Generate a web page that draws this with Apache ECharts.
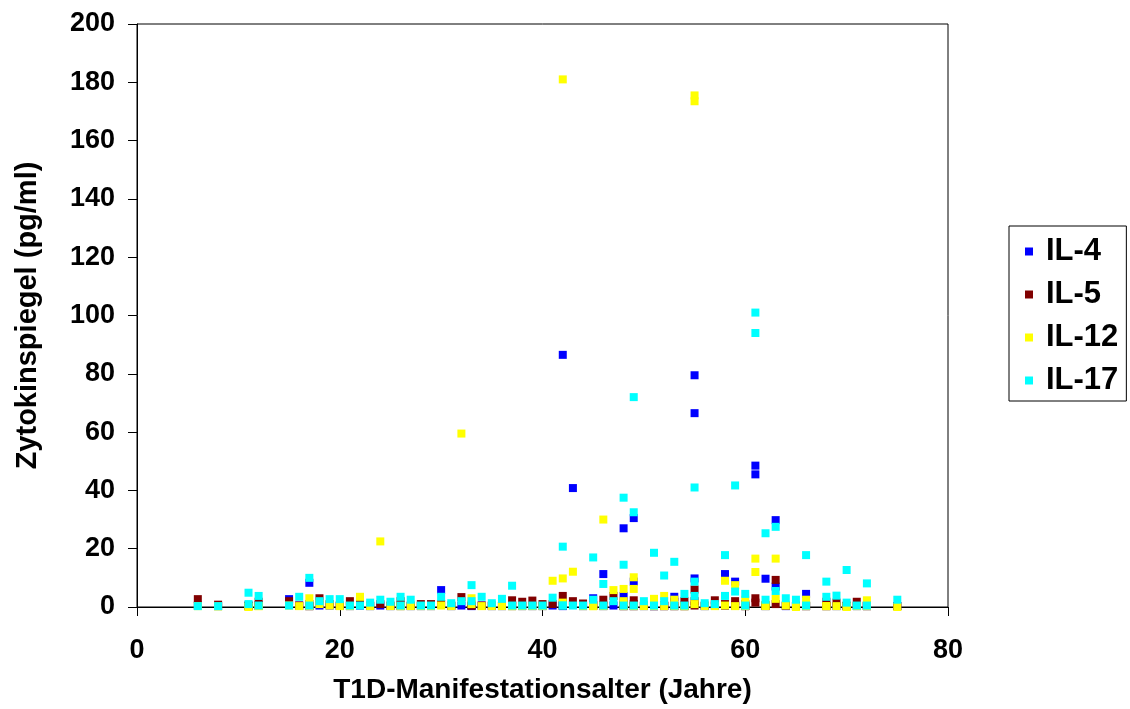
<!DOCTYPE html>
<html>
<head>
<meta charset="utf-8">
<script src="https://cdn.jsdelivr.net/npm/echarts@6/dist/echarts.min.js"></script>
<style>
  html, body { margin: 0; padding: 0; background: #fff; }
  #chart { width: 1130px; height: 709px; }
</style>
</head>
<body>
<div id="chart"></div>
<script>
// Manifestation age (years) per patient
const ages = [6, 8, 11, 11, 12, 12, 15, 16, 17, 17, 18, 19, 20, 21, 22, 23, 24, 25, 26, 26, 27, 28, 29, 30, 31, 32, 33, 33, 34, 35, 36, 37, 37, 38, 39, 40, 41, 42, 42, 42, 43, 44, 45, 45, 46, 46, 47, 48, 48, 48, 49, 49, 49, 50, 51, 51, 52, 52, 53, 53, 54, 54, 55, 55, 55, 56, 57, 58, 58, 59, 59, 60, 60, 61, 61, 62, 62, 63, 63, 64, 65, 66, 66, 68, 68, 69, 70, 70, 71, 72, 72, 75];
// Cytokine levels (pg/ml) per patient
const il4 = [0.5, 0.3, 0.5, 0.3, 0.5, 0.5, 2.7, 0.5, 8.3, 0.3, 0.5, 0.5, 0.4, 0.3, 0.5, 0.3, 0.5, 0.3, 0.5, 0.3, 0.3, 0.3, 0.3, 5.8, 0.3, 0.5, 0.5, 0.3, 0.5, 0.3, 0.3, 0.5, 0.3, 0.3, 0.3, 0.3, 0.5, 86.5, 0.5, 0.3, 40.8, 0.3, 0.5, 3.0, 11.3, 0.3, 0.5, 27.0, 3.8, 0.3, 8.7, 30.5, 0.3, 0.3, 0.3, 0.3, 0.5, 0.3, 3.5, 0.3, 0.5, 0.3, 79.5, 66.5, 9.8, 0.3, 0.5, 11.3, 0.5, 8.7, 0.5, 0.5, 0.3, 48.5, 45.5, 9.7, 0.3, 29.8, 7.0, 0.3, 0.3, 4.5, 0.3, 0.5, 0.3, 0.3, 0.3, 0.3, 0.3, 0.5, 0.3, 0.3];
const il5 = [2.7, 0.8, 0.5, 0.3, 1.8, 0.5, 2.0, 0.5, 1.0, 0.3, 3.0, 1.0, 0.5, 2.0, 1.0, 0.5, 1.0, 0.5, 0.5, 2.0, 0.5, 1.0, 1.0, 1.0, 0.5, 3.4, 0.5, 0.5, 0.5, 0.5, 0.5, 0.5, 2.3, 1.8, 2.2, 1.0, 1.0, 3.8, 1.0, 0.5, 2.0, 1.2, 0.5, 0.5, 2.5, 0.5, 3.8, 1.0, 0.5, 0.3, 2.3, 1.0, 0.3, 0.5, 0.5, 0.3, 0.5, 0.3, 1.8, 0.3, 2.0, 0.3, 6.0, 2.0, 0.5, 0.5, 2.3, 1.0, 0.5, 2.0, 0.5, 1.0, 0.3, 3.0, 1.5, 0.5, 0.5, 9.3, 1.0, 0.5, 0.5, 0.5, 0.3, 1.8, 0.3, 1.5, 0.5, 0.3, 1.8, 0.5, 0.3, 0.3];
const il12 = [0.3, 0.2, 0.0, 0.2, 0.3, 0.3, 0.5, 0.3, 3.0, 0.3, 1.0, 0.5, 0.3, 0.3, 3.5, 0.3, 22.5, 0.3, 0.3, 0.3, 0.3, 0.3, 0.3, 0.5, 0.3, 59.5, 1.0, 3.0, 0.3, 0.3, 0.3, 0.3, 0.3, 0.3, 0.3, 0.3, 9.0, 181.0, 9.8, 1.5, 12.1, 0.3, 0.3, 0.3, 30.0, 0.3, 5.8, 6.2, 2.0, 0.3, 10.2, 6.2, 0.3, 0.3, 2.8, 0.3, 3.8, 0.3, 2.5, 0.3, 0.3, 0.3, 175.5, 173.5, 1.0, 0.3, 0.3, 9.0, 0.5, 7.5, 0.3, 2.5, 0.3, 16.6, 12.0, 0.5, 0.3, 16.6, 2.8, 0.5, 0.0, 2.5, 0.3, 0.3, 0.3, 0.3, 0.0, 0.3, 0.3, 2.3, 0.3, 0.0];
const il17 = [0.3, 0.3, 4.9, 1.0, 0.5, 3.8, 0.5, 3.5, 10.0, 0.5, 2.0, 2.7, 2.7, 0.5, 0.5, 1.5, 2.5, 1.8, 3.5, 0.5, 2.5, 0.5, 0.5, 3.5, 1.3, 2.0, 7.5, 2.0, 3.5, 1.3, 2.8, 7.3, 0.5, 0.5, 0.5, 0.5, 3.2, 20.7, 0.5, 0.5, 0.5, 0.5, 17.0, 2.5, 7.9, 0.5, 2.0, 37.5, 14.5, 0.5, 72.0, 32.5, 0.5, 2.0, 18.6, 0.5, 10.8, 2.0, 15.5, 0.5, 4.5, 0.5, 41.0, 8.7, 3.8, 1.3, 1.0, 17.8, 3.8, 41.7, 5.3, 4.5, 0.5, 101.0, 94.0, 25.3, 2.5, 27.5, 5.5, 3.0, 2.5, 17.8, 0.5, 8.7, 3.5, 3.9, 12.7, 1.5, 0.5, 8.1, 0.5, 2.5];

const seriesNames = ['IL-4', 'IL-5', 'IL-12', 'IL-17'];
const seriesValues = [il4, il5, il12, il17];
const seriesColors = ['#0000FF', '#800000', '#FFFF00', '#00FFFF'];

const FONT = "'Liberation Sans', Arial, Helvetica, sans-serif";

const chart = echarts.init(document.getElementById('chart'), null, { renderer: 'canvas' });

const series = seriesNames.map((name, i) => ({
  name: name,
  type: 'scatter',
  symbol: 'rect',
  symbolSize: 8,
  data: ages.map((a, k) => [a, seriesValues[i][k]]),
  itemStyle: { color: seriesColors[i], opacity: 1 },
  emphasis: { disabled: true },
  z: 2 + i
}));

chart.setOption({
  animation: false,
  backgroundColor: '#ffffff',
  grid: {
    left: 137, right: 182, top: 24, bottom: 102,
    show: true, borderColor: '#000', borderWidth: 1,
    containLabel: false
  },
  legend: {
    orient: 'vertical',
    left: 1009,
    top: 226,
    icon: 'rect',
    itemWidth: 8,
    itemHeight: 8,
    itemGap: 12,
    padding: [10, 8, 5, 16],
    borderColor: '#000',
    borderWidth: 1,
    backgroundColor: '#fff',
    data: seriesNames,
    textStyle: { fontFamily: FONT, fontSize: 31, fontWeight: 'bold', color: '#000', padding: [0, 0, 0, 8] },
    selectedMode: false
  },
  xAxis: {
    type: 'value',
    min: 0, max: 80, interval: 20,
    name: 'T1D-Manifestationsalter (Jahre)',
    nameLocation: 'middle',
    nameGap: 69,
    nameTextStyle: { fontFamily: FONT, fontSize: 28, fontWeight: 'bold', color: '#000' },
    axisLine: { show: true, onZero: false, lineStyle: { color: '#000', width: 1 } },
    axisTick: { show: true, inside: false, length: 9, lineStyle: { color: '#000' } },
    axisLabel: { fontFamily: FONT, fontSize: 27, fontWeight: 'bold', color: '#000', margin: 30 },
    splitLine: { show: false }
  },
  yAxis: {
    type: 'value',
    min: 0, max: 200, interval: 20,
    name: 'Zytokinspiegel (pg/ml)',
    nameLocation: 'middle',
    nameGap: 95,
    nameTextStyle: { fontFamily: FONT, fontSize: 29, fontWeight: 'bold', color: '#000' },
    axisLine: { show: true, lineStyle: { color: '#000', width: 1 } },
    axisTick: { show: true, inside: false, length: 9, lineStyle: { color: '#000' } },
    axisLabel: { fontFamily: FONT, fontSize: 27, fontWeight: 'bold', color: '#000', margin: 22 },
    splitLine: { show: false }
  },
  series: series
});
</script>
</body>
</html>
